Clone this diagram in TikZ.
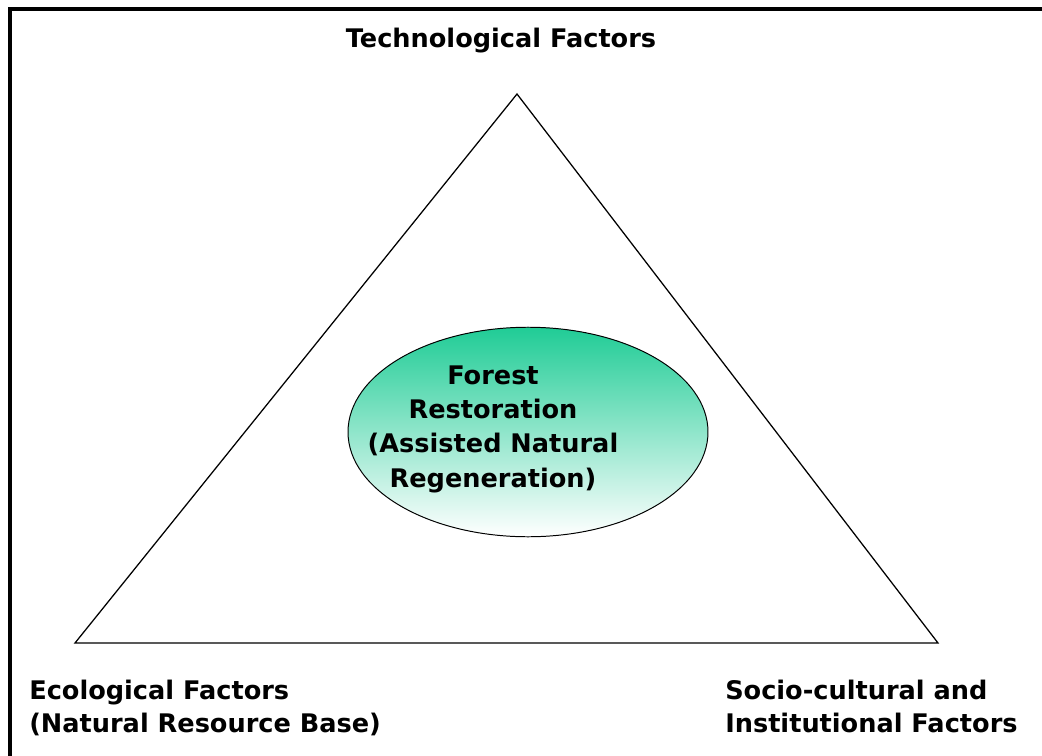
\documentclass[tikz,border=0pt]{standalone}
\usepackage{fontspec}
\usepackage{xcolor}
\usetikzlibrary{shapes.geometric}
\setmainfont{DejaVu Sans}

\definecolor{forestgreen}{RGB}{32,204,150}

\tikzset{
  factor/.style={font=\bfseries\fontsize{18.2}{22.8}\selectfont, align=left, inner sep=0pt},
  core/.style={ellipse, draw, line width=0.7pt, top color=forestgreen, bottom color=white,
    minimum width=256pt, minimum height=149pt, inner sep=0pt}
}

\begin{document}
\begin{tikzpicture}[x=0.025cm, y=-0.025cm]
  \useasboundingbox (0,0) rectangle (1042,756);

  % Frame along the top and left
  \draw[line width=2.9pt] (10,760) -- (10,9) -- (1046,9);

  % Corners of the triangle
  \coordinate (top) at (517,94);
  \coordinate (left) at (75,643);
  \coordinate (right) at (938,643);

  % Draw the triangle
  \draw[line width=0.9pt, line join=miter] (top) -- (right) -- (left) -- cycle;

  % The central ellipse and its text
  \node[core] (restore) at (528,432) {};
  \node[factor, align=center, font=\bfseries\fontsize{18.2}{24.2}\selectfont, anchor=base] (restoretext) at (493,487)
    {Forest\\Restoration\\(Assisted Natural\\Regeneration)};

  % Labels for the three factors
  \node[factor, anchor=base] (tech) at (501,47) {Technological Factors};
  \node[factor, anchor=base west] (eco) at (29,732) {Ecological Factors\\(Natural Resource Base)};
  \node[factor, anchor=base west] (socio) at (725,732) {Socio-cultural and\\Institutional Factors};
\end{tikzpicture}
\end{document}
